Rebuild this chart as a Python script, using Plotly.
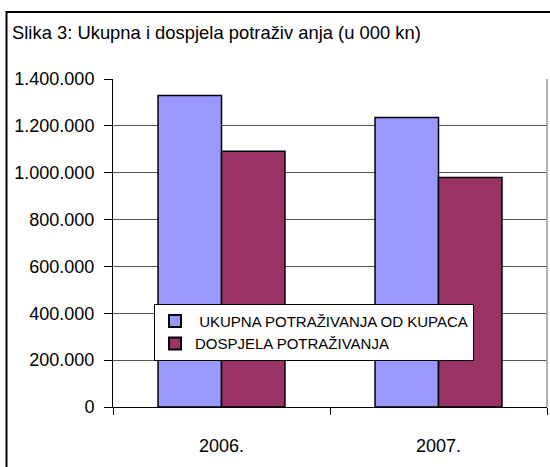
import plotly.graph_objects as go

categories = ["2006.", "2007."]
ukupna = [1330000, 1236000]
dospjela = [1092000, 980000]
series_names = ["UKUPNA POTRAŽIVANJA OD KUPACA", "DOSPJELA POTRAŽIVANJA"]
y_tickvals = [0, 200000, 400000, 600000, 800000, 1000000, 1200000, 1400000]
y_ticktext = ["0", "200.000", "400.000", "600.000", "800.000", "1.000.000", "1.200.000", "1.400.000"]
title_text = "Slika 3: Ukupna i dospjela potraživ anja (u 000 kn)"

FONT = "Liberation Sans, Arial, sans-serif"

fig = go.Figure()
fig.add_trace(go.Bar(x=categories, y=ukupna, name=" " + series_names[0],
                     marker=dict(color="#9999FF", line=dict(color="black", width=1.5))))
fig.add_trace(go.Bar(x=categories, y=dospjela, name=series_names[1],
                     marker=dict(color="#993366", line=dict(color="black", width=1.5))))

W, H = 550, 467
L, R, T, B = 113, 3, 79, 59.5
pw = W - L - R
ph = H - T - B

def px(x):
    return (x - L) / pw

def py(y):
    return (H - B - y) / ph

fig.update_layout(
    width=W, height=H,
    margin=dict(l=L, r=R, t=T, b=B, pad=0, autoexpand=False),
    paper_bgcolor="white", plot_bgcolor="white",
    barmode="group", bargap=0.415, bargroupgap=0,
    font=dict(family=FONT, color="black", size=18),
    title=dict(text=title_text, x=12 / W, xanchor="left", y=1 - 33 / H, yanchor="middle",
               font=dict(family=FONT, size=18.4, color="black"), automargin=False),
    showlegend=True,
    legend=dict(x=px(154), y=py(304), xanchor="left", yanchor="top",
                bgcolor="white", bordercolor="black", borderwidth=1,
                font=dict(family=FONT, size=15, color="black"),
                itemsizing="constant", tracegroupgap=0),
    xaxis=dict(type="category", showgrid=False, showline=True, linecolor="black", linewidth=1,
               ticks="outside", ticklen=7, tickcolor="black", tickson="boundaries",
               tickfont=dict(family=FONT, size=18), ticklabelstandoff=22, range=[-0.5, 1.5],
               automargin=False),
    yaxis=dict(range=[0, 1400000], tickvals=y_tickvals, ticktext=y_ticktext,
               showgrid=True, gridcolor="#555555", gridwidth=1,
               showline=True, linecolor="black", linewidth=1,
               ticks="outside", ticklen=8, tickcolor="black",
               tickfont=dict(family=FONT, size=18), ticklabelstandoff=6, zeroline=False,
               automargin=False),
    shapes=[
        dict(type="rect", xref="paper", yref="paper",
             x0=px(6.5), x1=px(560), y0=py(480), y1=py(12),
             line=dict(color="black", width=2), fillcolor="rgba(0,0,0,0)", layer="above"),
        dict(type="line", xref="paper", yref="paper", x0=1, x1=1, y0=0, y1=1,
             line=dict(color="#999999", width=1.5)),
    ],
)

fig.write_html("out.html", config={"displayModeBar": False},
               post_script="document.body.style.margin='0';document.body.style.overflow='hidden';")
